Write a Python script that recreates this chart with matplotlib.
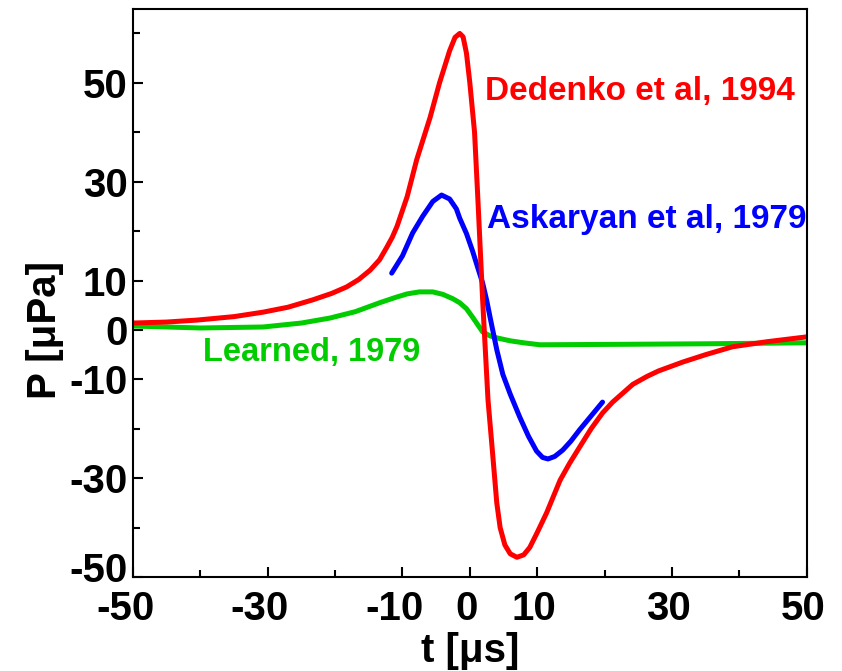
import matplotlib.pyplot as plt
from matplotlib.transforms import ScaledTranslation

plt.rcParams['font.family'] = ['Liberation Sans', 'DejaVu Sans']
plt.rcParams['font.weight'] = 'bold'
plt.rcParams['axes.unicode_minus'] = False

# Dedenko et al, 1994
t_dedenko = [-50, -45, -40.5, -35, -30.7, -27, -23.3, -20.5, -18.3, -16.5, -14.8,
             -13.4, -12.3, -11.5, -10.8, -9.3, -7.9, -5.9, -4.5, -3.0, -2.2, -1.5,
             -1.0, -0.5, 0.0, 0.7, 1.2, 1.9, 2.7, 3.3, 4.0, 4.5, 5.2, 6.0, 7.0, 8.0,
             8.9, 10.0, 11.4, 12.4, 13.4, 14.8, 16.3, 18.0, 19.7, 21.2, 22.7, 24.2,
             26.3, 28.0, 31.6, 35.0, 39.0, 44.0, 50]
p_dedenko = [1.4, 1.6, 2.0, 2.7, 3.6, 4.6, 6.1, 7.4, 8.7, 10.2, 12.1,
             14.2, 16.8, 18.8, 21.0, 27.0, 34.4, 43.0, 50.0, 56.5, 59.2, 60.0,
             59.3, 56.0, 50.0, 40.0, 26.3, 6.1, -14.2, -23.7, -35.0, -40.0, -43.5, -45.3, -46.0, -45.5,
             -44.0, -41.0, -37.0, -33.7, -30.4, -27.0, -23.7, -20.0, -16.8, -14.6, -12.8, -11.0,
             -9.4, -8.3, -6.5, -5.0, -3.4, -2.4, -1.4]

# Askaryan et al, 1979
t_askaryan = [-11.6, -10.0, -8.5, -7.0, -5.5, -4.2, -3.0, -2.0, -1.5, -0.5, 0.4,
              1.2, 1.9, 2.5, 3.0, 4.0, 4.9, 6.0, 7.4, 8.7, 9.9, 10.8, 11.6, 12.6,
              13.8, 15.0, 16.3, 18.0, 19.7]
p_askaryan = [11.5, 15.0, 19.6, 23.0, 26.0, 27.3, 26.5, 24.5, 22.6, 19.5, 16.0,
              12.5, 9.5, 6.0, 2.6, -4.0, -9.0, -13.0, -17.6, -21.5, -24.5, -25.8, -26.1, -25.6,
              -24.3, -22.5, -20.2, -17.4, -14.6]

# Learned, 1979
t_learned = [-50, -40, -30.7, -25, -20.8, -17, -13.4, -11, -9.3, -7.5, -5.5,
             -4.0, -2.5, -1.5, -0.5, 0.4, 1.2, 1.9, 3.0, 4.0, 6.0, 8.0, 10.4,
             23.3, 35.0, 50]
p_learned = [0.8, 0.4, 0.6, 1.4, 2.4, 3.7, 5.5, 6.6, 7.3, 7.7, 7.7,
             7.2, 6.3, 5.5, 4.3, 2.6, 1.0, -0.4, -1.2, -1.6, -2.2, -2.6, -3.0,
             -2.9, -2.8, -2.6]

xticks = [-50, -30, -10, 0, 10, 30, 50]
xminor = [-40, -20, 20, 40]
yticks = [-50, -30, -10, 0, 10, 30, 50]
yminor = [-40, -20, 20, 40, 60]

red = '#ff0000'
blue = '#0000ff'
green = '#00cc00'

fig = plt.figure(figsize=(8.42, 6.71), dpi=100)
ax = fig.add_axes([0.158, 0.140, 0.800, 0.847])

ax.plot(t_learned, p_learned, color=green, lw=3.6, solid_capstyle='round', solid_joinstyle='round')
ax.plot(t_askaryan, p_askaryan, color=blue, lw=3.6, solid_capstyle='round', solid_joinstyle='round')
ax.plot(t_dedenko, p_dedenko, color=red, lw=3.6, solid_capstyle='round', solid_joinstyle='round')

ax.text(2.2, 48.2, 'Dedenko et al, 1994', color=red, fontsize=24,
        fontweight='bold', ha='left', va='center')
ax.text(2.5, 22.3, 'Askaryan et al, 1979', color=blue, fontsize=24,
        fontweight='bold', ha='left', va='center')
ax.text(-39.6, -4.5, 'Learned, 1979', color=green, fontsize=23.5,
        fontweight='bold', ha='left', va='center')

ax.set_xlim(-50, 50)
ax.set_ylim(-50, 65)
ax.set_xticks(xticks)
ax.set_xticks(xminor, minor=True)
ax.set_yticks(yticks)
ax.set_yticks(yminor, minor=True)
ax.tick_params(which='both', direction='in', width=1.5, top=False, right=False)
ax.tick_params(which='major', length=7)
ax.tick_params(which='minor', length=5)
ax.tick_params(axis='x', labelsize=29, pad=9)
ax.tick_params(axis='y', labelsize=29, pad=4)
for s in ax.spines.values():
    s.set_linewidth(1.5)

# the hand-placed labels of the original sit a little off their ticks
for val, lab in zip(xticks, ax.get_xticklabels()):
    lab.set_fontweight('bold')
    dx = -8 if val < 0 else -3
    lab.set_transform(lab.get_transform() + ScaledTranslation(dx / 100, 0, fig.dpi_scale_trans))
for val, lab in zip(yticks, ax.get_yticklabels()):
    lab.set_fontweight('bold')
    if val == -50:
        lab.set_transform(lab.get_transform() + ScaledTranslation(0, 10 / 100, fig.dpi_scale_trans))

ax.set_xlabel('t [μs]', fontsize=29, fontweight='bold', labelpad=3)
ax.set_ylabel('P [μPa]', fontsize=29, fontweight='bold')
ax.yaxis.set_label_coords(-0.103, 0.435)

fig.savefig('out.png', dpi=100)
